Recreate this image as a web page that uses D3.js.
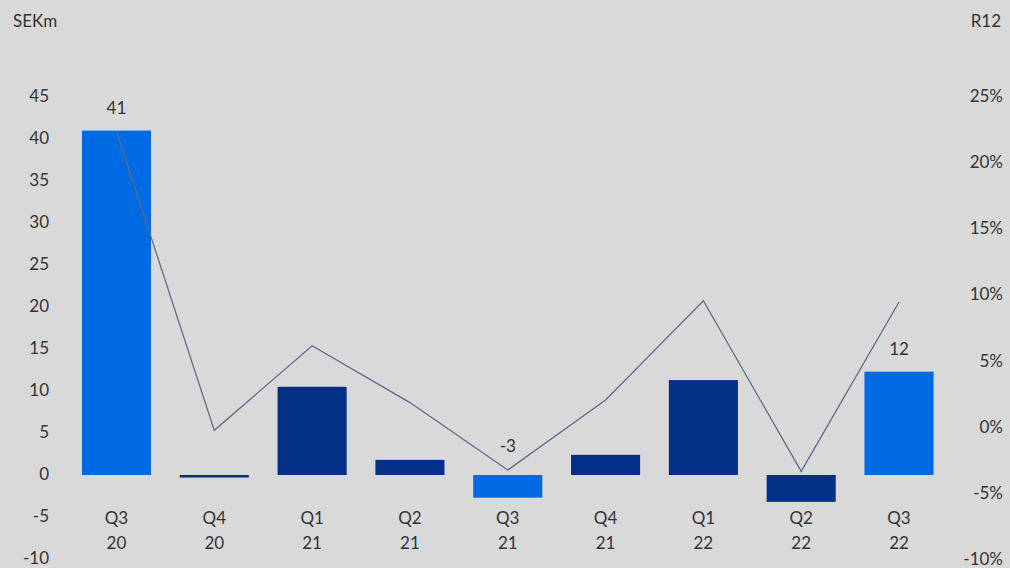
<!DOCTYPE html>
<html>
<head>
<script src="https://cdnjs.cloudflare.com/ajax/libs/d3/7.8.5/d3.min.js"></script>
<style>
  body { margin: 0; background: #d9d9d9; }
  svg text { font-family: Lato, "Open Sans", sans-serif; fill: #333; }
</style>
</head>
<body>
<svg id="chart" width="1010" height="568"></svg>
<script>
const quarters = ["Q3", "Q4", "Q1", "Q2", "Q3", "Q4", "Q1", "Q2", "Q3"];
const years = ["20", "20", "21", "21", "21", "21", "22", "22", "22"];
const ebit = [41, -0.3, 10.5, 1.8, -2.7, 2.4, 11.3, -3.2, 12.3];
const r12 = [22.4, -0.2, 6.2, 1.9, -3.2, 2.1, 9.6, -3.3, 9.5];
const barLabels = ["41", null, null, null, "-3", null, null, null, "12"];
const leftTicks = [-10, -5, 0, 5, 10, 15, 20, 25, 30, 35, 40, 45];
const rightTicks = [-10, -5, 0, 5, 10, 15, 20, 25];

const svg = d3.select("#chart");
const bright = "#006ae3", dark = "#032f86";

const x = d3.scaleBand().domain(d3.range(quarters.length))
    .range([62.4, 953.1]).paddingInner(0.294).paddingOuter(0.2);
const yL = d3.scaleLinear().domain([-10, 45]).range([559, 97]);
const yR = d3.scaleLinear().domain([-10, 25]).range([560, 97]);

svg.append("text").attr("x", 13).attr("y", 27).attr("font-size", 17).text("SEKm");
svg.append("text").attr("x", 1001).attr("y", 27).attr("font-size", 17)
    .attr("text-anchor", "end").text("R12");

svg.append("g").selectAll("text").data(leftTicks).join("text")
    .attr("x", 49).attr("y", d => yL(d) + 5).attr("text-anchor", "end")
    .attr("font-size", 17).text(d => d);

svg.append("g").selectAll("text").data(rightTicks).join("text")
    .attr("x", 1003).attr("y", d => yR(d) + 5).attr("text-anchor", "end")
    .attr("font-size", 17).text(d => d + "%");

svg.append("g").selectAll("rect").data(ebit).join("rect")
    .attr("x", (d, i) => x(i))
    .attr("width", x.bandwidth())
    .attr("y", d => Math.min(yL(d), yL(0)))
    .attr("height", d => Math.max(Math.abs(yL(d) - yL(0)), 1.5))
    .attr("fill", (d, i) => quarters[i] === "Q3" ? bright : dark);

svg.append("path").datum(r12)
    .attr("fill", "none").attr("stroke", "#5b6c8a").attr("stroke-width", 1.3)
    .attr("d", d3.line().x((d, i) => x(i) + x.bandwidth() / 2).y(d => yR(d)));

svg.append("g").selectAll("text").data(ebit).join("text")
    .attr("x", (d, i) => x(i) + x.bandwidth() / 2)
    .attr("y", (d, i) => i === 4 ? 452 : yL(Math.max(d, 0)) - 17)
    .attr("text-anchor", "middle").attr("font-size", 17)
    .text((d, i) => barLabels[i]);

const cats = svg.append("g").selectAll("g").data(quarters).join("g");
cats.append("text").attr("x", (d, i) => x(i) + x.bandwidth() / 2).attr("y", 524)
    .attr("text-anchor", "middle").attr("font-size", 17).text(d => d);
cats.append("text").attr("x", (d, i) => x(i) + x.bandwidth() / 2).attr("y", 549)
    .attr("text-anchor", "middle").attr("font-size", 17).text((d, i) => years[i]);
</script>
</body>
</html>
